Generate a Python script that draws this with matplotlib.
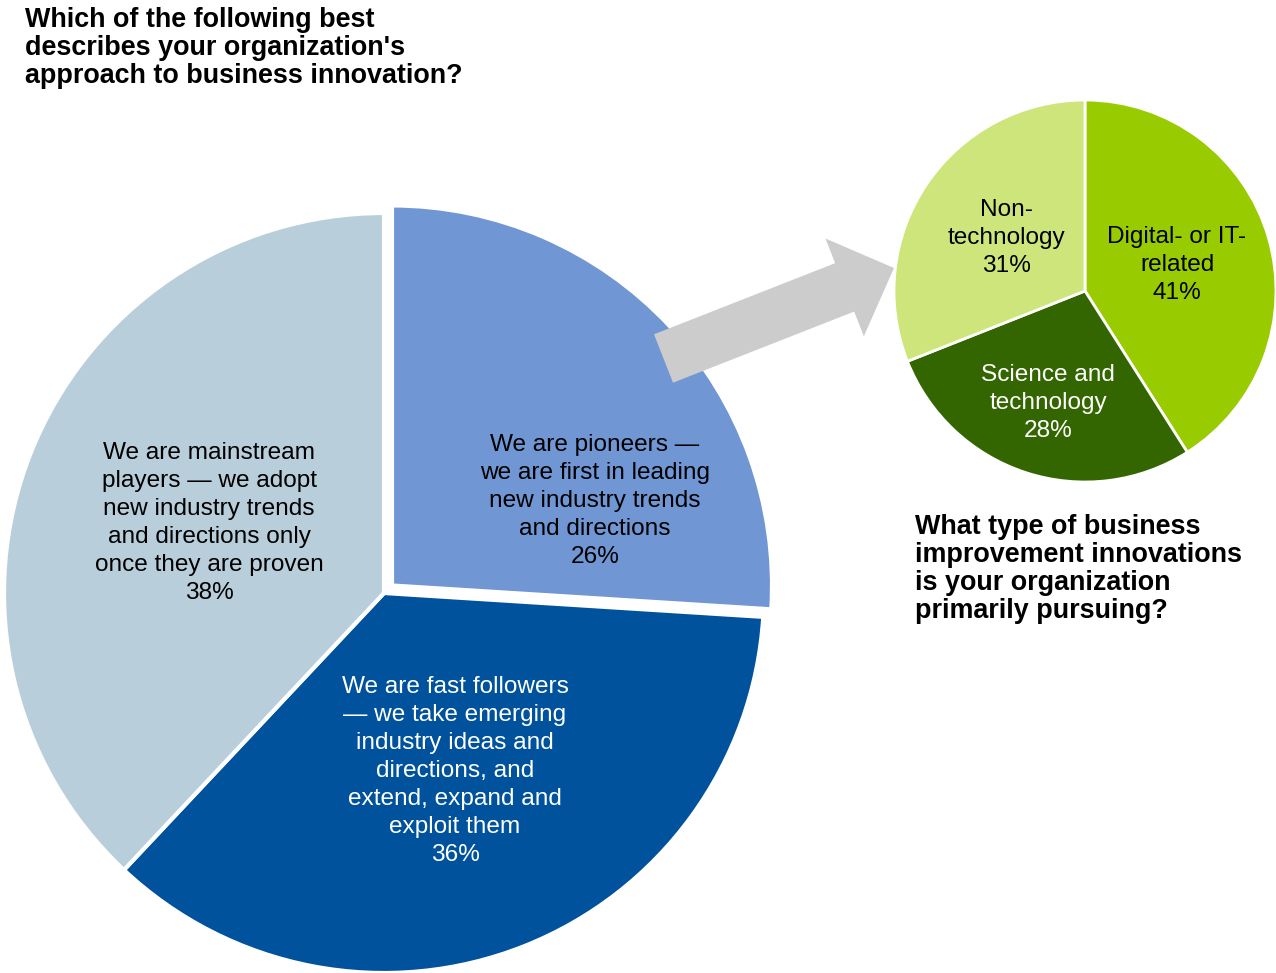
import matplotlib.pyplot as plt
from matplotlib.patches import FancyArrow

plt.rcParams['font.family'] = ['Liberation Sans', 'DejaVu Sans']

# 혁신 접근 방식 (큰 원)
approach_labels = ['We are pioneers —\nwe are first in leading\nnew industry trends\nand directions',
                   'We are fast followers\n— we take emerging\nindustry ideas and\ndirections, and\nextend, expand and\nexploit them',
                   'We are mainstream\nplayers — we adopt\nnew industry trends\nand directions only\nonce they are proven']
approach_values = [26, 36, 38]
approach_colors = ['#7096D4', '#00529C', '#B9CEDB']
approach_text = ['black', 'white', 'black']

# 혁신 유형 (작은 원)
type_labels = ['Digital- or IT-\nrelated', 'Science and\ntechnology', 'Non-\ntechnology']
type_values = [41, 28, 31]
type_colors = ['#99CC00', '#336600', '#CDE57A']
type_text = ['black', 'white', 'black']

W, H = 1276, 973
fig = plt.figure(figsize=(W / 100, H / 100), dpi=100)
ax = fig.add_axes([0, 0, 1, 1])

# 큰 원: 첫 조각(pioneers)만 살짝 떼어냄 (explode는 데이터 단위)
ax.pie(approach_values, colors=approach_colors, startangle=90, counterclock=False,
       center=(384, H - 593), radius=380, explode=[11, 0, 0],
       wedgeprops=dict(edgecolor='white', linewidth=3))

ax.pie(type_values, colors=type_colors, startangle=90, counterclock=False,
       center=(1085, H - 291), radius=191,
       wedgeprops=dict(edgecolor='white', linewidth=2))

ax.set_xlim(0, W)
ax.set_ylim(0, H)
ax.set_aspect('equal')
ax.axis('off')

# 라벨 위치 (픽셀, 위에서부터)
approach_pos = [(595, 501), (455, 771), (209, 523)]
type_pos = [(1177, 265), (1048, 403), (1006, 238)]

for lab, v, c, (x, y) in zip(approach_labels, approach_values, approach_text, approach_pos):
    ax.text(x, H - y, f'{lab}\n{v}%', ha='center', va='center', fontsize=17.6,
            color=c, linespacing=1.36)

for lab, v, c, (x, y) in zip(type_labels, type_values, type_text, type_pos):
    ax.text(x, H - y, f'{lab}\n{v}%', ha='center', va='center', fontsize=17.6,
            color=c, linespacing=1.36)

# 회색 화살표
ax.add_patch(FancyArrow(663.5, H - 358.5, 230.5, 90.5, width=52, head_width=105,
                        head_length=53, length_includes_head=True,
                        color='#CCCCCC', linewidth=0))

ax.text(25, H - 48, "Which of the following best\ndescribes your organization's\napproach to business innovation?",
        ha='left', va='center', fontsize=19.4, fontweight='bold', linespacing=1.09)
ax.text(915, H - 569, 'What type of business\nimprovement innovations\nis your organization\nprimarily pursuing?',
        ha='left', va='center', fontsize=19.4, fontweight='bold', linespacing=1.09)

fig.savefig('out.png', dpi=100)
